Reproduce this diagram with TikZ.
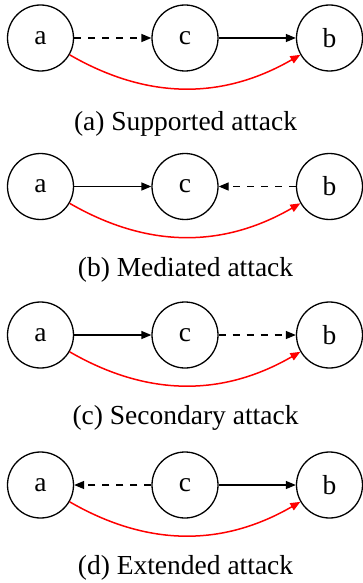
\documentclass[tikz,border=0pt]{standalone}
\usepackage{fontspec}
\setmainfont{Liberation Serif}
\usetikzlibrary{arrows.meta}
\begin{document}
\begin{tikzpicture}[x=1pt,y=1pt,
  arg/.style={draw,circle,minimum size=66pt,inner sep=0pt,line width=1.3pt,font=\fontsize{27.5}{33}\selectfont},
  captxt/.style={font=\fontsize{27.5}{33}\selectfont,inner sep=0pt},
  suparr/.style={line width=1.3pt,-{Triangle[length=10pt,width=8pt]}},
  dsuparr/.style={suparr,dash pattern=on 7pt off 7pt},
  attarr/.style={red,line width=1.5pt,-{Triangle[length=10pt,width=8pt]},out=-30,in=-150}]
\useasboundingbox (0,0) rectangle (363,-583);
% (a)
\node[arg] (a1) at (40.5,-38) {a};
\node[arg] (c1) at (185,-38) {c};
\node[arg] (b1) at (329.5,-38) {b};
\draw[dsuparr] (a1) -- (c1);
\draw[suparr] (c1) -- (b1);
\draw[attarr] (a1) to (b1);
\node[captxt] (t1) at (185.5,-124) {(a) Supported attack};
% (b)
\node[arg] (a2) at (40.5,-186.5) {a};
\node[arg] (c2) at (185,-186.5) {c};
\node[arg] (b2) at (329.5,-186.5) {b};
\draw[suparr] (a2) -- (c2);
\draw[dsuparr] (b2) -- (c2);
\draw[attarr] (a2) to (b2);
\node[captxt] (t2) at (185.5,-270) {(b) Mediated attack};
% (c)
\node[arg] (a3) at (40.5,-335) {a};
\node[arg] (c3) at (185,-335) {c};
\node[arg] (b3) at (329.5,-335) {b};
\draw[suparr] (a3) -- (c3);
\draw[dsuparr] (c3) -- (b3);
\draw[attarr] (a3) to (b3);
\node[captxt] (t3) at (185.5,-418) {(c) Secondary attack};
% (d)
\node[arg] (a4) at (40.5,-485) {a};
\node[arg] (c4) at (185,-485) {c};
\node[arg] (b4) at (329.5,-485) {b};
\draw[dsuparr] (c4) -- (a4);
\draw[suparr] (c4) -- (b4);
\draw[attarr] (a4) to (b4);
\node[captxt] (t4) at (185.5,-568) {(d) Extended attack};
\end{tikzpicture}
\end{document}
